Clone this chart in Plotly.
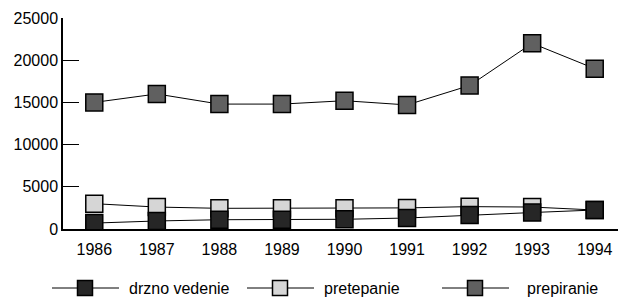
import plotly.graph_objects as go

years = [1986, 1987, 1988, 1989, 1990, 1991, 1992, 1993, 1994]
drzno_vedenie = [700, 950, 1100, 1100, 1150, 1300, 1650, 1950, 2250]
pretepanie = [3000, 2600, 2450, 2450, 2450, 2500, 2650, 2600, 2250]
prepiranie = [15000, 16000, 14800, 14800, 15200, 14700, 17000, 22000, 19000]
y_ticks = [0, 5000, 10000, 15000, 20000, 25000]
series_names = ["drzno vedenie", "pretepanie", "prepiranie"]

colors = ["#262626", "#d6d6d6", "#606060"]
series_values = [drzno_vedenie, pretepanie, prepiranie]

W, H = 618, 292
ML, MR, MT, MB = 55, 0, 10, 71
PW, PH = W - ML - MR, H - MT - MB

def px_x(p):
    return (p - ML) / PW

def px_y(p):
    return (H - MB - p) / PH

fig = go.Figure()
# draw order: light series first so the dark one sits on top where they overlap
for idx in [1, 0, 2]:
    name, vals, col = series_names[idx], series_values[idx], colors[idx]
    fig.add_trace(go.Scatter(
        x=years, y=vals, name=name, mode="lines+markers",
        line=dict(color="black", width=1),
        marker=dict(symbol="square", size=17, color=col,
                    line=dict(color="black", width=1.5)),
        showlegend=False,
    ))

# custom legend (line + square symbol + label), positioned in pixels
leg_starts = [44, 239, 434]
leg_y = 280
shapes = []
annotations = []
for i, (name, col) in enumerate(zip(series_names, colors)):
    x0 = leg_starts[i]
    shapes.append(dict(type="line", xref="paper", yref="paper",
                       x0=px_x(x0), x1=px_x(x0 + 67), y0=px_y(leg_y), y1=px_y(leg_y),
                       line=dict(color="black", width=1)))
    cx = x0 + 33
    shapes.append(dict(type="rect", xref="paper", yref="paper",
                       x0=px_x(cx - 7.5), x1=px_x(cx + 7.5),
                       y0=px_y(leg_y + 7.5), y1=px_y(leg_y - 7.5),
                       fillcolor=col, line=dict(color="black", width=1.5)))
    annotations.append(dict(text=name, xref="paper", yref="paper",
                            x=px_x(x0 + 75 + (8 if i == 2 else 0)), y=px_y(leg_y),
                            xanchor="left", yanchor="middle", showarrow=False,
                            font=dict(size=16)))

font = "Liberation Sans, Arial, sans-serif"
fig.update_layout(
    width=W, height=H,
    margin=dict(l=ML, r=MR, t=MT, b=MB, autoexpand=False),
    paper_bgcolor="white", plot_bgcolor="white",
    font=dict(family=font, size=16, color="black"),
    showlegend=False,
    shapes=shapes, annotations=annotations,
    xaxis=dict(range=[1985.5, 1994.5], tickvals=years, ticktext=[str(y) for y in years],
               showline=True, linecolor="black", linewidth=1.5, showgrid=False,
               zeroline=False, ticks="", automargin=False, ticklabelstandoff=5),
    yaxis=dict(range=[0, 25000], tickvals=y_ticks, ticktext=[str(v) for v in y_ticks],
               showline=True, linecolor="black", linewidth=1.5, showgrid=False,
               zeroline=False, ticks="inside", ticklen=16, tickcolor="black",
               automargin=False),
)
fig.write_html("out.html")
